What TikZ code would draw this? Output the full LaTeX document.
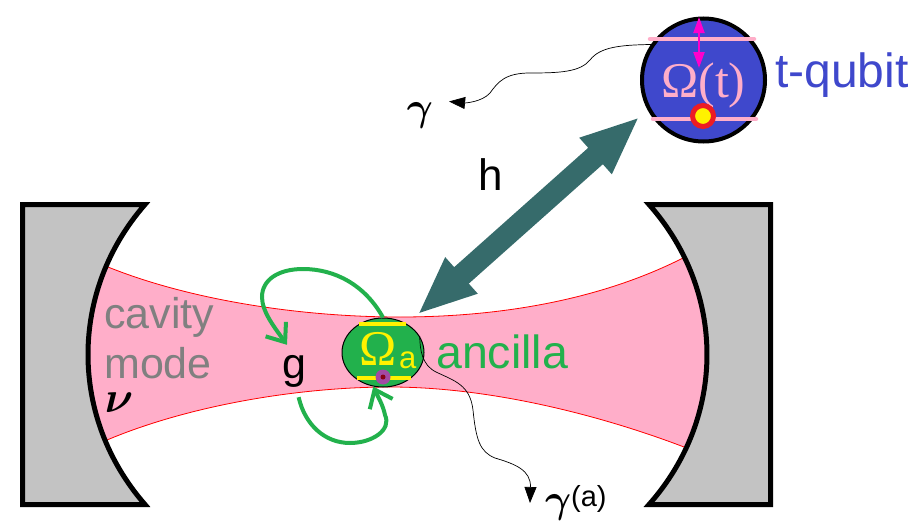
\documentclass[tikz,border=0pt]{standalone}
\usepackage{fix-cm}
\usepackage{fontspec}
\setmainfont{Liberation Sans}
\newfontfamily\symfont{Liberation Serif}
\usetikzlibrary{arrows.meta,shapes.geometric}

\definecolor{modepink}{HTML}{FFAEC9}
\definecolor{mirrorgray}{HTML}{C3C3C3}
\definecolor{qubitblue}{HTML}{3F48CC}
\definecolor{ancgreen}{HTML}{22B14C}
\definecolor{ancyellow}{HTML}{FFF200}
\definecolor{tealarrow}{HTML}{366B6B}
\definecolor{levelmagenta}{HTML}{FF00CC}
\definecolor{ballred}{HTML}{ED1C24}
\definecolor{dotpurple}{HTML}{A349A4}
\definecolor{dotcorered}{HTML}{880015}

\tikzset{
  txt/.style={inner sep=0pt,anchor=base west,font=\fontsize{#1}{#1}\selectfont},
  mirror/.style={draw=black,line width=5pt,fill=mirrorgray},
  level/.style={line width=4.5pt,line cap=round},
  greenarrow/.style={draw=ancgreen,line width=4pt,-{Straight Barb[length=16pt,width=25pt]}},
  decay/.style={draw=black,line width=.7pt,-{Triangle[length=16pt,width=12pt]}}
}

\begin{document}
\begin{tikzpicture}[x=1pt,y=-1pt]
  \useasboundingbox (0,0) rectangle (916,530);

  % cavity mode
  \fill[modepink] (108,267) .. controls (190,300) and (300,317) .. (400,317)
    .. controls (500,317) and (600,300) .. (683,258) -- (740,258) -- (740,447) -- (684,447)
    .. controls (600,415) and (490,387) .. (390,387)
    .. controls (300,387) and (190,405) .. (107,440) -- (60,440) -- (60,267) -- cycle;
  \draw[red,line width=.8pt] (108,267) .. controls (190,300) and (300,317) .. (400,317)
    .. controls (500,317) and (600,300) .. (683,258);
  \draw[red,line width=.8pt] (107,440) .. controls (190,405) and (300,387) .. (390,387)
    .. controls (490,387) and (600,415) .. (684,447);

  % mirrors
  \draw[mirror] (22.5,204.5) -- (145,204.5) .. controls (69,291.5) and (69,417.5) .. (145,504.5) -- (22.5,504.5) -- cycle;
  \draw[mirror] (770.5,204.5) -- (649,204.5) .. controls (726.3,291.5) and (726.3,417.5) .. (649,504.5) -- (770.5,504.5) -- cycle;

  % t-qubit
  \node[circle,draw=black,line width=4pt,fill=qubitblue,minimum size=123pt,inner sep=0pt] (tqubit) at (703.5,80) {};
  \draw[level,modepink] (650,39) -- (754,39);
  \draw[level,modepink] (653,119) -- (756,119);
  \coordinate (uplevel) at (699,17);
  \coordinate (downlevel) at (699,68);
  \draw[levelmagenta,line width=2pt,{Triangle[length=16pt,width=11pt]}-{Triangle[length=16pt,width=11pt]}] (uplevel) -- (downlevel);
  \node[txt=50,text=modepink] (omegat) at (661,97) {\symfont Ω(t)};
  \node[circle,draw=ballred,line width=5pt,fill=ancyellow,minimum size=21pt,inner sep=0pt] (ball) at (703,116) {};
  \node[txt=48,text=qubitblue] (tlabel) at (775,87) {t-qubit};

  % ancilla
  \node[ellipse,draw=black,line width=1pt,fill=ancgreen,minimum width=82pt,minimum height=69pt,inner sep=0pt] (ancilla) at (383,352.5) {};
  \draw[level,ancyellow,line cap=butt] (359,324) -- (406,324);
  \draw[level,ancyellow,line cap=butt] (357,378) -- (411,378);
  \node[txt=50,text=ancyellow] (omegaa) at (359,365) {\symfont Ω};
  \node[txt=31,text=ancyellow] (suba) at (399,368) {a};
  \node[circle,fill=dotpurple,minimum size=15pt,inner sep=0pt] (dot) at (383,377) {};
  \node[circle,fill=dotcorered,minimum size=5pt,inner sep=0pt] (dotcore) at (383,377) {};
  \node[txt=46.5,text=ancgreen] (anclabel) at (436,368) {ancilla};

  % labels
  \node[txt=43,text=gray] (cavity) at (104,328) {cavity};
  \node[txt=43,text=gray] (mode) at (104,378) {mode};
  \node[inner sep=0pt,font=\fontsize{44}{44}\selectfont\boldmath] (nu) at (119,403) {$\nu$};
  \node[inner sep=10pt,font=\fontsize{43}{43}\selectfont] (g) at (294,371) {g};
  \node[txt=44] (h) at (478,190) {h};
  \node[outer sep=16pt,inner sep=0pt,font=\fontsize{40}{40}\selectfont\boldmath] (gam) at (420,115) {$\gamma$};
  \node[outer sep=15pt,inner sep=0pt,anchor=west,font=\fontsize{40}{40}\selectfont\boldmath] (gama) at (530,503) {$\gamma$\raisebox{6pt}{\fontsize{29}{29}\selectfont (a)}};

  % couplings
  \draw[tealarrow,line width=22pt,shorten <=14pt,shorten >=10.5pt,{Triangle[length=59pt,width=44pt]}-{Triangle[length=59pt,width=44pt]}] (ancilla.50) -- (tqubit.208);
  \draw[greenarrow] (ancilla.north) .. controls (365,285) and (335,269) .. (303,269)
    .. controls (278,269) and (262,280) .. (262,297) .. controls (262,312) and (275,328) .. (g.105);
  \draw[greenarrow] (g.-80) .. controls (305,425) and (325,443) .. (350,443)
    .. controls (372,443) and (392,430) .. (385,415) .. controls (383,405) and (378,397) .. (ancilla.254);

  % decay
  \draw[decay] (tqubit.146) .. controls (620,45) and (600,47) .. (590,60)
    .. controls (580,72) and (560,73) .. (530,73) .. controls (505,73) and (498,82) .. (490,93)
    .. controls (482,102) and (465,103) .. (gam.25);
  \draw[decay] (ancilla.24) .. controls (420,350) and (422,365) .. (436,372)
    .. controls (455,381) and (470,385) .. (473,410) .. controls (476,440) and (480,452) .. (495,458)
    .. controls (515,464) and (531,470) .. (gama.west);
\end{tikzpicture}
\end{document}
